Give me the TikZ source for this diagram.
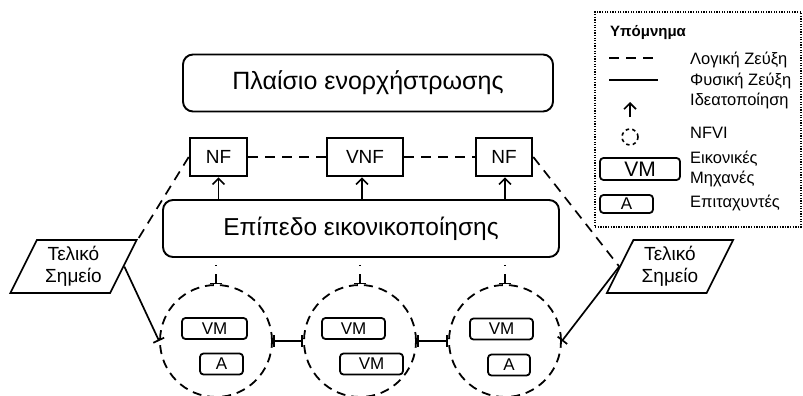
\documentclass[tikz,border=0pt]{standalone}
\usepackage{fontspec}
\setmainfont{Liberation Sans}
\usetikzlibrary{arrows.meta,shapes.geometric}
\begin{document}
\begin{tikzpicture}[x=1pt,y=-1pt,
  bigbox/.style={draw, line width=1.9pt, rounded corners=10pt, minimum height=57pt},
  nfbox/.style={draw, line width=2.6pt, minimum height=38pt, inner sep=0pt, font=\fontsize{19}{22}\selectfont},
  vmbox/.style={draw, line width=1.8pt, rounded corners=3.5pt, minimum height=21pt, inner sep=0pt, font=\fontsize{17}{19}\selectfont},
  nfvi/.style={draw, circle, dash pattern=on 9pt off 6pt, line width=1.8pt, minimum size=112pt, inner sep=0pt},
  endpt/.style={draw, trapezium, trapezium left angle=63, trapezium right angle=117, trapezium stretches=true, minimum width=127pt, minimum height=53pt, line width=1.7pt, align=center, inner sep=0pt, font=\fontsize{19}{22}\selectfont},
  logical/.style={line width=1.7pt, dash pattern=on 10pt off 7pt},
  physical/.style={line width=1.7pt},
  virt/.style={line width=1.6pt, -{Straight Barb[length=6pt,width=12pt]}},
  vdash/.style={line width=1.6pt, dash pattern=on 0pt off 7pt on 1.5pt off 8pt on 40pt},
  tbar/.style={-{Bar[width=12pt]}},
  leg/.style={anchor=west, inner sep=0pt, font=\fontsize{16.5}{19}\selectfont}
]
\useasboundingbox (0,0) rectangle (803,396);

% main boxes
\node[bigbox, minimum width=370pt, font=\fontsize{25}{30}\selectfont] (orch) at (368,83) {Πλαίσιο ενορχήστρωσης};
\node[bigbox, minimum width=396pt, font=\fontsize{24.5}{29}\selectfont] (layer) at (361,228.5) {Επίπεδο εικονικοποίησης};

\node[nfbox, minimum width=57pt] (nf1) at (218.5,157) {NF};
\node[nfbox, minimum width=76pt] (vnf) at (365,157) {VNF};
\node[nfbox, minimum width=56pt] (nf3) at (504,157) {NF};

\draw[logical] (nf1) -- (vnf);
\draw[logical] (vnf) -- (nf3);

\draw[virt] (nf1.south |- layer.north) -- (nf1.south);
\draw[virt] (362,0 |- layer.north) coordinate (va) -- (va |- vnf.south);
\draw[virt] (505,0 |- layer.north) coordinate (vb) -- (vb |- nf3.south);

% NFVI circles
\node[nfvi] (c1) at (216,341) {};
\node[nfvi] (c2) at (360,341) {};
\node[nfvi] (c3) at (505,341) {};

\node[vmbox, minimum width=65pt] (c1vm) at (214.5,328.5) {VM};
\node[vmbox, minimum width=43pt] (c1a) at (221.5,364) {A};
\node[vmbox, minimum width=63pt] (c2vm) at (353.5,328.5) {VM};
\node[vmbox, minimum width=63pt] (c2vmb) at (371.5,364) {VM};
\node[vmbox, minimum width=63pt] (c3vm) at (501.5,329) {VM};
\node[vmbox, minimum width=42pt] (c3a) at (509,365) {A};

\draw[vdash, tbar] (c1.north |- layer.south) -- (c1.north);
\draw[vdash, tbar] (c2.north |- layer.south) -- (c2.north);
\draw[vdash, tbar] (c3.north |- layer.south) -- (c3.north);

\draw[physical, {Bar[width=12pt]}-{Bar[width=12pt]}] (c1.east) -- (c2.west);
\draw[physical, {Bar[width=12pt]}-{Bar[width=12pt]}] (c2.east) -- (c3.west);

% end points
\node[endpt] (ep1) at (73.5,266.5) {Τελικό\\Σημείο};
\node[endpt] (ep2) at (670,266.5) {Τελικό\\Σημείο};

\draw[logical] (nf1.west) -- (ep1.top right corner);
\draw[physical, tbar] (ep1.east) -- (c1.west);
\draw[logical] (nf3.east) -- (ep2.west);
\draw[physical, {Bar[width=12pt]}-] (c3.east) -- (ep2.west);

% legend
\node[draw, line width=2pt, dash pattern=on 1.3pt off 1.3pt, minimum width=206pt, minimum height=215pt, inner sep=0pt] (legbox) at (698,119.5) {};
\node[leg, font=\bfseries\fontsize{15}{18}\selectfont] (legt) at (610,33) {Υπόμνημα};
\coordinate (l1a) at (609,58); \coordinate (l1b) at (658,58);
\draw[logical] (l1a) -- (l1b);
\node[leg] (lt1) at (690,60) {Λογική Ζεύξη};
\coordinate (l2a) at (609,80); \coordinate (l2b) at (658,80);
\draw[line width=2.6pt] (l2a) -- (l2b);
\node[leg] (lt2) at (690,81) {Φυσική Ζεύξη};
\coordinate (l3a) at (630,117); \coordinate (l3b) at (630,102);
\draw[virt] (l3a) -- (l3b);
\node[leg] (lt3) at (690,101) {Ιδεατοποίηση};
\node[draw, circle, minimum size=16pt, inner sep=0pt, dash pattern=on 3.5pt off 3.2pt, line width=1.6pt] (lcirc) at (630,137) {};
\node[leg] (lt4) at (690,133) {NFVI};
\node[vmbox, minimum width=80pt, minimum height=22pt, font=\fontsize{21}{23}\selectfont] (lvm) at (640,169) {VM};
\node[leg, align=left, font=\fontsize{16.5}{20}\selectfont] (lt5) at (690,169) {Εικονικές\\Μηχανές};
\node[vmbox, minimum width=53pt, minimum height=18pt, font=\fontsize{17}{19}\selectfont] (la) at (626.5,204) {A};
\node[leg] (lt6) at (690,203) {Επιταχυντές};
\end{tikzpicture}
\end{document}
